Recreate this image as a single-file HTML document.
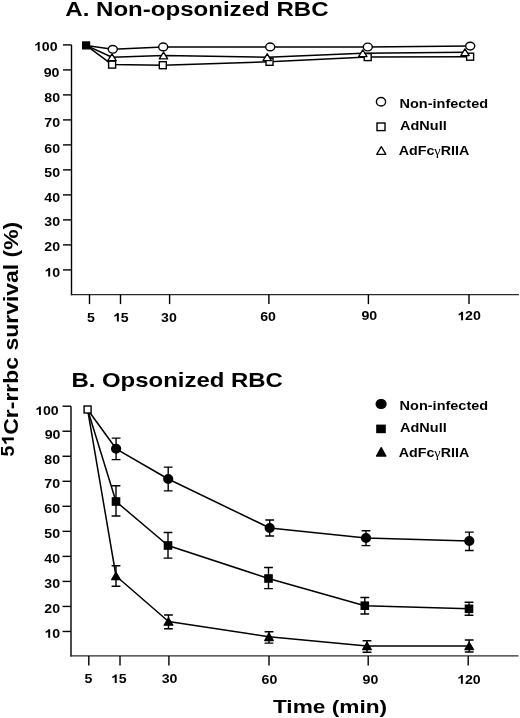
<!DOCTYPE html>
<html><head><meta charset="utf-8"><style>
html,body{margin:0;padding:0;background:#fff;overflow:hidden;}
svg{display:block;will-change:transform;}
text{font-family:"Liberation Sans",sans-serif;font-weight:bold;fill:#000;}
</style></head><body>
<svg width="520" height="718" viewBox="0 0 520 718">
<rect width="520" height="718" fill="#fff"/>
<text transform="translate(65.3,15.9) scale(1.234,1)" font-size="19.5" text-anchor="start" >A. Non-opsonized RBC</text>
<path d="M71.5,44.9 V295.3" fill="none" stroke="#000" stroke-width="1.4"/>
<path d="M70.8,294.6 H519" fill="none" stroke="#2a2a2a" stroke-width="1.4"/>
<line x1="63.0" y1="44.9" x2="71.5" y2="44.9" stroke="#000" stroke-width="1.4"/>
<line x1="63.0" y1="69.9" x2="71.5" y2="69.9" stroke="#000" stroke-width="1.4"/>
<line x1="63.0" y1="94.9" x2="71.5" y2="94.9" stroke="#000" stroke-width="1.4"/>
<line x1="63.0" y1="119.9" x2="71.5" y2="119.9" stroke="#000" stroke-width="1.4"/>
<line x1="63.0" y1="144.9" x2="71.5" y2="144.9" stroke="#000" stroke-width="1.4"/>
<line x1="63.0" y1="169.9" x2="71.5" y2="169.9" stroke="#000" stroke-width="1.4"/>
<line x1="63.0" y1="194.9" x2="71.5" y2="194.9" stroke="#000" stroke-width="1.4"/>
<line x1="63.0" y1="219.9" x2="71.5" y2="219.9" stroke="#000" stroke-width="1.4"/>
<line x1="63.0" y1="244.9" x2="71.5" y2="244.9" stroke="#000" stroke-width="1.4"/>
<line x1="63.0" y1="269.9" x2="71.5" y2="269.9" stroke="#000" stroke-width="1.4"/>
<line x1="89.5" y1="294.6" x2="89.5" y2="304.1" stroke="#000" stroke-width="1.4"/>
<line x1="120.5" y1="294.6" x2="120.5" y2="304.1" stroke="#000" stroke-width="1.4"/>
<line x1="169.6" y1="294.6" x2="169.6" y2="304.1" stroke="#000" stroke-width="1.4"/>
<line x1="268.9" y1="294.6" x2="268.9" y2="304.1" stroke="#000" stroke-width="1.4"/>
<line x1="368.4" y1="294.6" x2="368.4" y2="304.1" stroke="#000" stroke-width="1.4"/>
<line x1="469" y1="294.6" x2="469" y2="304.1" stroke="#000" stroke-width="1.4"/>
<text transform="translate(57.5,50.7) scale(1.133,1)" font-size="12.5" text-anchor="end"> 00</text>
<path transform="translate(33.87,50.7) scale(0.006915,-0.006104)" d="M842,0 H561 V1000 Q407,870 198,800 V1060 Q308,1095 436,1195 Q540,1290 590,1409 H842 Z"/>
<text transform="translate(59.4,77.1) scale(1.133,1)" font-size="12.5" text-anchor="end" >90</text>
<text transform="translate(60.1,102.3) scale(1.133,1)" font-size="12.5" text-anchor="end" >80</text>
<text transform="translate(60.1,127.1) scale(1.133,1)" font-size="12.5" text-anchor="end" >70</text>
<text transform="translate(60.1,152.8) scale(1.133,1)" font-size="12.5" text-anchor="end" >60</text>
<text transform="translate(60.1,177.2) scale(1.133,1)" font-size="12.5" text-anchor="end" >50</text>
<text transform="translate(60.1,202.0) scale(1.133,1)" font-size="12.5" text-anchor="end" >40</text>
<text transform="translate(60.1,226.0) scale(1.133,1)" font-size="12.5" text-anchor="end" >30</text>
<text transform="translate(60.1,250.8) scale(1.133,1)" font-size="12.5" text-anchor="end" >20</text>
<text transform="translate(60.1,276.5) scale(1.133,1)" font-size="12.5" text-anchor="end"> 0</text>
<path transform="translate(44.347,276.5) scale(0.006915,-0.006104)" d="M842,0 H561 V1000 Q407,870 198,800 V1060 Q308,1095 436,1195 Q540,1290 590,1409 H842 Z"/>
<text transform="translate(90.85,321.6) scale(1.133,1)" font-size="12.5" text-anchor="middle" >5</text>
<text transform="translate(120.85,321.6) scale(1.133,1)" font-size="12.5" text-anchor="middle"> 5</text>
<path transform="translate(112.973,321.6) scale(0.006915,-0.006104)" d="M842,0 H561 V1000 Q407,870 198,800 V1060 Q308,1095 436,1195 Q540,1290 590,1409 H842 Z"/>
<text transform="translate(168.95,321.6) scale(1.133,1)" font-size="12.5" text-anchor="middle" >30</text>
<text transform="translate(268.1,320.7) scale(1.133,1)" font-size="12.5" text-anchor="middle" >60</text>
<text transform="translate(369.35,320.3) scale(1.133,1)" font-size="12.5" text-anchor="middle" >90</text>
<text transform="translate(469.05,320.3) scale(1.133,1)" font-size="12.5" text-anchor="middle"> 20</text>
<path transform="translate(457.235,320.3) scale(0.006915,-0.006104)" d="M842,0 H561 V1000 Q407,870 198,800 V1060 Q308,1095 436,1195 Q540,1290 590,1409 H842 Z"/>
<path d="M86.1,45.4 L112.1,64.6 L162.8,65.2 L269.5,61.8 L367.7,57.1 L470.1,56.7" fill="none" stroke="#000" stroke-width="1.5" stroke-linejoin="round"/>
<path d="M86.1,45.4 L112,57.3 L163.5,55.5 L267.2,57.2 L362.8,53.3 L465,52.2" fill="none" stroke="#000" stroke-width="1.5" stroke-linejoin="round"/>
<path d="M86.1,45.4 L112.8,49.3 L163.2,46.9 L270.2,46.9 L367.8,47 L470.2,46.1" fill="none" stroke="#000" stroke-width="1.5" stroke-linejoin="round"/>
<rect x="108.6" y="61.099999999999994" width="7.0" height="7.0" fill="#fff" stroke="#000" stroke-width="1.4"/>
<rect x="159.3" y="61.7" width="7.0" height="7.0" fill="#fff" stroke="#000" stroke-width="1.4"/>
<rect x="266.0" y="58.3" width="7.0" height="7.0" fill="#fff" stroke="#000" stroke-width="1.4"/>
<rect x="364.2" y="53.6" width="7.0" height="7.0" fill="#fff" stroke="#000" stroke-width="1.4"/>
<rect x="466.6" y="53.2" width="7.0" height="7.0" fill="#fff" stroke="#000" stroke-width="1.4"/>
<path d="M112,53.9 L116.2,60.699999999999996 L107.8,60.699999999999996 Z" fill="#fff" stroke="#000" stroke-width="1.3" stroke-linejoin="round"/>
<path d="M163.5,52.1 L167.7,58.9 L159.3,58.9 Z" fill="#fff" stroke="#000" stroke-width="1.3" stroke-linejoin="round"/>
<path d="M267.2,53.800000000000004 L271.4,60.6 L263.0,60.6 Z" fill="#fff" stroke="#000" stroke-width="1.3" stroke-linejoin="round"/>
<path d="M362.8,49.9 L367.0,56.699999999999996 L358.6,56.699999999999996 Z" fill="#fff" stroke="#000" stroke-width="1.3" stroke-linejoin="round"/>
<path d="M465,48.800000000000004 L469.2,55.6 L460.8,55.6 Z" fill="#fff" stroke="#000" stroke-width="1.3" stroke-linejoin="round"/>
<ellipse cx="112.8" cy="49.3" rx="4.5" ry="3.85" fill="#fff" stroke="#000" stroke-width="1.4"/>
<ellipse cx="163.2" cy="46.9" rx="4.5" ry="3.85" fill="#fff" stroke="#000" stroke-width="1.4"/>
<ellipse cx="270.2" cy="46.9" rx="4.5" ry="3.85" fill="#fff" stroke="#000" stroke-width="1.4"/>
<ellipse cx="367.8" cy="47" rx="4.5" ry="3.85" fill="#fff" stroke="#000" stroke-width="1.4"/>
<ellipse cx="470.2" cy="46.1" rx="4.5" ry="3.85" fill="#fff" stroke="#000" stroke-width="1.4"/>
<rect x="82.7" y="42.0" width="6.799999999999999" height="6.799999999999999" fill="#000" stroke="#000" stroke-width="1.4"/>
<ellipse cx="381" cy="101.8" rx="4.6" ry="4.25" fill="#fff" stroke="#000" stroke-width="1.4"/>
<rect x="377.0" y="123.0" width="8.0" height="7.6" fill="#fff" stroke="#000" stroke-width="1.4"/>
<path d="M381.3,146.7 L385.90000000000003,154.3 L376.7,154.3 Z" fill="#fff" stroke="#000" stroke-width="1.3" stroke-linejoin="round"/>
<text transform="translate(399.5,107.6) scale(1.21,1)" font-size="12" text-anchor="start" >Non-infected</text>
<text transform="translate(400.0,130.2) scale(1.21,1)" font-size="12" text-anchor="start" >AdNull</text>
<text transform="translate(398.7,154.8) scale(1.19,1)" font-size="12" text-anchor="start" >AdFc<tspan font-weight="normal" font-family="Liberation Serif">&#947;</tspan>RIIA</text>
<text transform="translate(71.4,386.9) scale(1.228,1)" font-size="19.5" text-anchor="start" >B. Opsonized RBC</text>
<path d="M71,406.2 V656.6" fill="none" stroke="#000" stroke-width="1.4"/>
<path d="M70.3,655.9 H518.5" fill="none" stroke="#2a2a2a" stroke-width="1.4"/>
<line x1="62.5" y1="406.2" x2="71" y2="406.2" stroke="#000" stroke-width="1.4"/>
<line x1="62.5" y1="431.23" x2="71" y2="431.23" stroke="#000" stroke-width="1.4"/>
<line x1="62.5" y1="456.26" x2="71" y2="456.26" stroke="#000" stroke-width="1.4"/>
<line x1="62.5" y1="481.28999999999996" x2="71" y2="481.28999999999996" stroke="#000" stroke-width="1.4"/>
<line x1="62.5" y1="506.32" x2="71" y2="506.32" stroke="#000" stroke-width="1.4"/>
<line x1="62.5" y1="531.35" x2="71" y2="531.35" stroke="#000" stroke-width="1.4"/>
<line x1="62.5" y1="556.38" x2="71" y2="556.38" stroke="#000" stroke-width="1.4"/>
<line x1="62.5" y1="581.41" x2="71" y2="581.41" stroke="#000" stroke-width="1.4"/>
<line x1="62.5" y1="606.44" x2="71" y2="606.44" stroke="#000" stroke-width="1.4"/>
<line x1="62.5" y1="631.47" x2="71" y2="631.47" stroke="#000" stroke-width="1.4"/>
<line x1="88.8" y1="655.9" x2="88.8" y2="665.4" stroke="#000" stroke-width="1.4"/>
<line x1="120" y1="655.9" x2="120" y2="665.4" stroke="#000" stroke-width="1.4"/>
<line x1="168.9" y1="655.9" x2="168.9" y2="665.4" stroke="#000" stroke-width="1.4"/>
<line x1="269" y1="655.9" x2="269" y2="665.4" stroke="#000" stroke-width="1.4"/>
<line x1="368.2" y1="655.9" x2="368.2" y2="665.4" stroke="#000" stroke-width="1.4"/>
<line x1="468.2" y1="655.9" x2="468.2" y2="665.4" stroke="#000" stroke-width="1.4"/>
<text transform="translate(58.7,415.0) scale(1.133,1)" font-size="12.5" text-anchor="end"> 00</text>
<path transform="translate(35.07,415.0) scale(0.006915,-0.006104)" d="M842,0 H561 V1000 Q407,870 198,800 V1060 Q308,1095 436,1195 Q540,1290 590,1409 H842 Z"/>
<text transform="translate(60.4,439.2) scale(1.133,1)" font-size="12.5" text-anchor="end" >90</text>
<text transform="translate(60.1,464.0) scale(1.133,1)" font-size="12.5" text-anchor="end" >80</text>
<text transform="translate(60.1,487.7) scale(1.133,1)" font-size="12.5" text-anchor="end" >70</text>
<text transform="translate(60.1,512.7) scale(1.133,1)" font-size="12.5" text-anchor="end" >60</text>
<text transform="translate(60.1,537.8) scale(1.133,1)" font-size="12.5" text-anchor="end" >50</text>
<text transform="translate(60.1,563.3) scale(1.133,1)" font-size="12.5" text-anchor="end" >40</text>
<text transform="translate(60.1,588.3) scale(1.133,1)" font-size="12.5" text-anchor="end" >30</text>
<text transform="translate(60.1,613.4) scale(1.133,1)" font-size="12.5" text-anchor="end" >20</text>
<text transform="translate(60.1,637.8) scale(1.133,1)" font-size="12.5" text-anchor="end"> 0</text>
<path transform="translate(44.347,637.8) scale(0.006915,-0.006104)" d="M842,0 H561 V1000 Q407,870 198,800 V1060 Q308,1095 436,1195 Q540,1290 590,1409 H842 Z"/>
<text transform="translate(88.35,683.0) scale(1.133,1)" font-size="12.5" text-anchor="middle" >5</text>
<text transform="translate(118.75,683.0) scale(1.133,1)" font-size="12.5" text-anchor="middle"> 5</text>
<path transform="translate(110.873,683.0) scale(0.006915,-0.006104)" d="M842,0 H561 V1000 Q407,870 198,800 V1060 Q308,1095 436,1195 Q540,1290 590,1409 H842 Z"/>
<text transform="translate(169.5,683.0) scale(1.133,1)" font-size="12.5" text-anchor="middle" >30</text>
<text transform="translate(269.4,683.8) scale(1.133,1)" font-size="12.5" text-anchor="middle" >60</text>
<text transform="translate(370.45,683.8) scale(1.133,1)" font-size="12.5" text-anchor="middle" >90</text>
<text transform="translate(468.85,683.7) scale(1.133,1)" font-size="12.5" text-anchor="middle"> 20</text>
<path transform="translate(457.035,683.7) scale(0.006915,-0.006104)" d="M842,0 H561 V1000 Q407,870 198,800 V1060 Q308,1095 436,1195 Q540,1290 590,1409 H842 Z"/>
<text transform="translate(272.9,713.0) scale(1.22,1)" font-size="18.6" text-anchor="start" >Time (min)</text>
<path d="M87.6,409.5 L116.1,448.8 L168.2,479 L269.7,528 L366,538 L469.3,541" fill="none" stroke="#000" stroke-width="1.5" stroke-linejoin="round"/>
<path d="M87.6,409.5 L116,501.5 L168,545.5 L268.5,578.5 L364.8,605.7 L469,608.8" fill="none" stroke="#000" stroke-width="1.5" stroke-linejoin="round"/>
<path d="M87.6,409.5 L116,576 L168.5,621.5 L269,636.8 L367,646 L469.2,646" fill="none" stroke="#000" stroke-width="1.5" stroke-linejoin="round"/>
<path d="M116.1,438.1 V459.6 M111.69999999999999,438.1 H120.5 M111.69999999999999,459.6 H120.5" stroke="#000" stroke-width="1.4" fill="none"/>
<path d="M168.2,467.1 V490.9 M163.79999999999998,467.1 H172.6 M163.79999999999998,490.9 H172.6" stroke="#000" stroke-width="1.4" fill="none"/>
<path d="M269.7,520 V536 M265.3,520 H274.09999999999997 M265.3,536 H274.09999999999997" stroke="#000" stroke-width="1.4" fill="none"/>
<path d="M366,530.8 V545.6 M361.6,530.8 H370.4 M361.6,545.6 H370.4" stroke="#000" stroke-width="1.4" fill="none"/>
<path d="M469.3,532.1 V550.5 M464.90000000000003,532.1 H473.7 M464.90000000000003,550.5 H473.7" stroke="#000" stroke-width="1.4" fill="none"/>
<path d="M116,485.8 V516 M111.6,485.8 H120.4 M111.6,516 H120.4" stroke="#000" stroke-width="1.4" fill="none"/>
<path d="M168,532.5 V558.1 M163.6,532.5 H172.4 M163.6,558.1 H172.4" stroke="#000" stroke-width="1.4" fill="none"/>
<path d="M268.5,567.5 V588.6 M264.1,567.5 H272.9 M264.1,588.6 H272.9" stroke="#000" stroke-width="1.4" fill="none"/>
<path d="M364.8,597.5 V614 M360.40000000000003,597.5 H369.2 M360.40000000000003,614 H369.2" stroke="#000" stroke-width="1.4" fill="none"/>
<path d="M469,602.3 V615.2 M464.6,602.3 H473.4 M464.6,615.2 H473.4" stroke="#000" stroke-width="1.4" fill="none"/>
<path d="M116,565.8 V586.2 M111.6,565.8 H120.4 M111.6,586.2 H120.4" stroke="#000" stroke-width="1.4" fill="none"/>
<path d="M168.5,615 V628.7 M164.1,615 H172.9 M164.1,628.7 H172.9" stroke="#000" stroke-width="1.4" fill="none"/>
<path d="M269,631.8 V643.1 M264.6,631.8 H273.4 M264.6,643.1 H273.4" stroke="#000" stroke-width="1.4" fill="none"/>
<path d="M367,640.8 V652.3 M362.6,640.8 H371.4 M362.6,652.3 H371.4" stroke="#000" stroke-width="1.4" fill="none"/>
<path d="M469.2,640 V652 M464.8,640 H473.59999999999997 M464.8,652 H473.59999999999997" stroke="#000" stroke-width="1.4" fill="none"/>
<ellipse cx="116.1" cy="448.8" rx="4.4" ry="4.3" fill="#000" stroke="#000" stroke-width="1.4"/>
<ellipse cx="168.2" cy="479" rx="4.4" ry="4.3" fill="#000" stroke="#000" stroke-width="1.4"/>
<ellipse cx="269.7" cy="528" rx="4.4" ry="4.3" fill="#000" stroke="#000" stroke-width="1.4"/>
<ellipse cx="366" cy="538" rx="4.4" ry="4.3" fill="#000" stroke="#000" stroke-width="1.4"/>
<ellipse cx="469.3" cy="541" rx="4.4" ry="4.3" fill="#000" stroke="#000" stroke-width="1.4"/>
<rect x="112.4" y="497.9" width="7.199999999999999" height="7.199999999999999" fill="#000" stroke="#000" stroke-width="1.4"/>
<rect x="164.39999999999998" y="541.9000000000001" width="7.199999999999999" height="7.199999999999999" fill="#000" stroke="#000" stroke-width="1.4"/>
<rect x="264.9" y="574.9000000000001" width="7.199999999999999" height="7.199999999999999" fill="#000" stroke="#000" stroke-width="1.4"/>
<rect x="361.2" y="602.1000000000001" width="7.199999999999999" height="7.199999999999999" fill="#000" stroke="#000" stroke-width="1.4"/>
<rect x="465.4" y="605.2" width="7.199999999999999" height="7.199999999999999" fill="#000" stroke="#000" stroke-width="1.4"/>
<path d="M116,572.3 L120.3,579.7 L111.7,579.7 Z" fill="#000" stroke="#000" stroke-width="1.3" stroke-linejoin="round"/>
<path d="M168.5,617.8 L172.8,625.2 L164.2,625.2 Z" fill="#000" stroke="#000" stroke-width="1.3" stroke-linejoin="round"/>
<path d="M269,633.0999999999999 L273.3,640.5 L264.7,640.5 Z" fill="#000" stroke="#000" stroke-width="1.3" stroke-linejoin="round"/>
<path d="M367,642.3 L371.3,649.7 L362.7,649.7 Z" fill="#000" stroke="#000" stroke-width="1.3" stroke-linejoin="round"/>
<path d="M469.2,642.3 L473.5,649.7 L464.9,649.7 Z" fill="#000" stroke="#000" stroke-width="1.3" stroke-linejoin="round"/>
<rect x="84.1" y="406.0" width="7.0" height="7.0" fill="#fff" stroke="#000" stroke-width="1.4"/>
<ellipse cx="381.1" cy="404" rx="4.9" ry="4.4" fill="#000" stroke="#000" stroke-width="1.4"/>
<rect x="376.9" y="425.29999999999995" width="8.2" height="7.199999999999999" fill="#000" stroke="#000" stroke-width="1.4"/>
<path d="M381.2,447.6 L385.9,456.0 L376.5,456.0 Z" fill="#000" stroke="#000" stroke-width="1.3" stroke-linejoin="round"/>
<text transform="translate(399.6,409.9) scale(1.21,1)" font-size="12" text-anchor="start" >Non-infected</text>
<text transform="translate(400.0,432.2) scale(1.21,1)" font-size="12" text-anchor="start" >AdNull</text>
<text transform="translate(398.7,456.6) scale(1.19,1)" font-size="12" text-anchor="start" >AdFc<tspan font-weight="normal" font-family="Liberation Serif">&#947;</tspan>RIIA</text>
<g transform="translate(17.9,456.5) rotate(-90) scale(1.12,1)"><text font-size="20.5"><tspan font-size="17.5" dy="-4">5 </tspan><tspan dy="4">Cr-rrbc survival (%)</tspan></text><path transform="translate(9.733,-4) scale(0.008545,-0.008545)" d="M842,0 H561 V1000 Q407,870 198,800 V1060 Q308,1095 436,1195 Q540,1290 590,1409 H842 Z"/></g>
</svg>
</body></html>
